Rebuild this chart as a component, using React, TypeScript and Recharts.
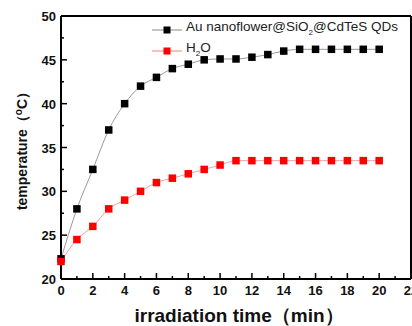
import { Legend, Line, LineChart, ReferenceLine, XAxis, YAxis } from "recharts";

const time = [0, 1, 2, 3, 4, 5, 6, 7, 8, 9, 10, 11, 12, 13, 14, 15, 16, 17, 18, 19, 20];
const auQds = [22.3, 28, 32.5, 37, 40, 42, 43, 44, 44.5, 45, 45.1, 45.1, 45.3, 45.6, 46, 46.2, 46.2, 46.2, 46.2, 46.2, 46.2];
const water = [22, 24.5, 26, 28, 29, 30, 31, 31.5, 32, 32.5, 33, 33.5, 33.5, 33.5, 33.5, 33.5, 33.5, 33.5, 33.5, 33.5, 33.5];

const xTicks = [0, 1, 2, 3, 4, 5, 6, 7, 8, 9, 10, 11, 12, 13, 14, 15, 16, 17, 18, 19, 20, 21, 22];
const yTicks = [20, 22.5, 25, 27.5, 30, 32.5, 35, 37.5, 40, 42.5, 45, 47.5, 50];

const data = time.map((t, i) => ({ t, au: auQds[i], h2o: water[i] }));

const font = "'Liberation Sans', Arial, sans-serif";

const XTick = ({ x, y, payload }: any) => {
  const major = payload.value % 2 === 0;
  return (
    <g>
      <line x1={x} x2={x} y1={y} y2={y - (major ? 6 : 3)} stroke="#000" strokeWidth={1.5} />
      {major && (
        <text x={x} y={y + 16} textAnchor="middle" fontFamily={font} fontWeight="bold" fontSize={13} fill="#111">
          {payload.value}
        </text>
      )}
    </g>
  );
};

const YTick = ({ x, y, payload }: any) => {
  const major = payload.value % 5 === 0;
  return (
    <g>
      <line x1={x} x2={x + (major ? 6 : 3)} y1={y} y2={y} stroke="#000" strokeWidth={1.5} />
      {major && (
        <text x={x - 5} y={y + 5} textAnchor="end" fontFamily={font} fontWeight="bold" fontSize={13} fill="#111">
          {payload.value}
        </text>
      )}
    </g>
  );
};

const Square = (color: string) => (props: any) => {
  const { cx, cy } = props;
  if (cx == null || cy == null) return <g />;
  return <rect x={cx - 3.75} y={cy - 3.75} width={7.5} height={7.5} fill={color} />;
};

const LegendBox = () => (
  <div style={{ fontFamily: font, fontSize: 13.5, color: "#222", lineHeight: "21px" }}>
    {[
      { c: "#000", l: "#888", label: <>Au nanoflower@SiO<sub style={{ fontSize: 8 }}>2</sub>@CdTeS QDs</> },
      { c: "#f00", l: "#f08080", label: <>H<sub style={{ fontSize: 8 }}>2</sub>O</> },
    ].map((row, i) => (
      <div key={i} style={{ display: "flex", alignItems: "center", whiteSpace: "nowrap", height: 21 }}>
        <svg width={33} height={10} style={{ marginRight: 1 }}>
          <line x1={0} x2={30} y1={5} y2={5} stroke={row.l} strokeWidth={1} />
          <rect x={11.5} y={1.5} width={7} height={7} fill={row.c} />
        </svg>
        <span>{row.label}</span>
      </div>
    ))}
  </div>
);

export default function App() {
  return (
    <div style={{ position: "absolute", left: 0, top: 0, width: 412, height: 326, overflow: "hidden", background: "#fff" }}>
      <LineChart width={420} height={326} data={data} margin={{ top: 16, right: 9, bottom: 0, left: 0 }}>
        <XAxis
          dataKey="t"
          type="number"
          domain={[0, 22]}
          ticks={xTicks}
          interval={0}
          height={47}
          tickSize={0}
          tickMargin={0}
          tick={<XTick />}
          axisLine={{ stroke: "#000", strokeWidth: 2 }}
          label={{
            content: ({ viewBox }: any) => (
              <text
                x={viewBox.x + viewBox.width / 2 + 3}
                y={viewBox.y + 43}
                textAnchor="middle"
                fontFamily={font}
                fontWeight="bold"
                fontSize={19}
                fill="#111"
              >
                irradiation time（min）
              </text>
            ),
          }}
        />
        <YAxis
          type="number"
          domain={[20, 50]}
          ticks={yTicks}
          interval={0}
          width={61}
          tickSize={0}
          tickMargin={0}
          tick={<YTick />}
          axisLine={{ stroke: "#000", strokeWidth: 2 }}
          label={{
            content: ({ viewBox }: any) => {
              const cx = 27;
              const cy = viewBox.y + viewBox.height / 2;
              return (
                <text
                  transform={`translate(${cx},${cy}) rotate(-90)`}
                  textAnchor="middle"
                  fontFamily={font}
                  fontWeight="bold"
                  fontSize={14}
                  fill="#111"
                >
                  temperature（
                  <tspan fontSize={10} dy={-5}>o</tspan>
                  <tspan dy={5}>C）</tspan>
                </text>
              );
            },
          }}
        />
        <ReferenceLine y={50} stroke="#000" strokeWidth={2} />
        <ReferenceLine x={22} stroke="#000" strokeWidth={2} />
        <Legend
          content={<LegendBox />}
          layout="horizontal"
          verticalAlign="middle"
          align="center"
          wrapperStyle={{ top: 19, left: 152, width: 260 }}
        />
        <Line
          dataKey="au"
          type="monotone"
          stroke="#999"
          strokeWidth={1}
          dot={Square("#000")}
          activeDot={false}
          isAnimationActive={false}
        />
        <Line
          dataKey="h2o"
          type="monotone"
          stroke="#f4a0a0"
          strokeWidth={1}
          dot={Square("#f00")}
          activeDot={false}
          isAnimationActive={false}
        />
      </LineChart>
    </div>
  );
}
